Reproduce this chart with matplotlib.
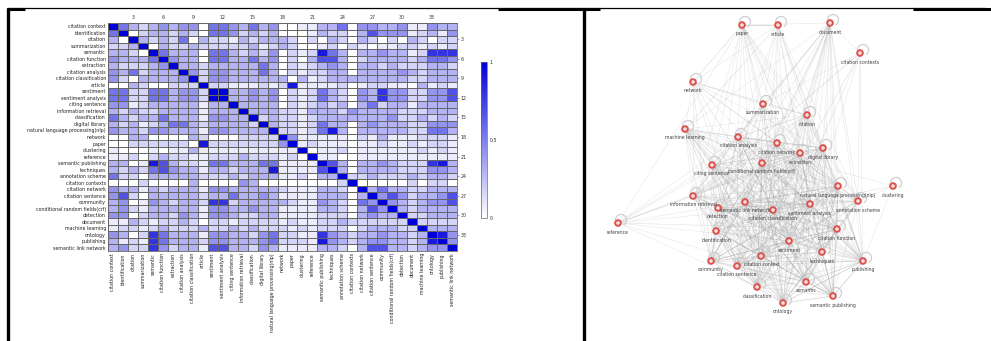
import numpy as np
import matplotlib
matplotlib.use("Agg")
import matplotlib.pyplot as plt
from matplotlib.colors import LinearSegmentedColormap
from matplotlib.patches import Arc

# ---------------- data ----------------
terms = ["citation context", "identification", "citation", "summarization", "semantic",
         "citation function", "extraction", "citation analysis", "citation classification",
         "article", "sentiment", "sentiment analysis", "citing sentence", "information retrieval",
         "classification", "digital library", "natural language processing(nlp)", "network",
         "paper", "clustering", "reference", "semantic publishing", "techniques",
         "annotation scheme", "citation contexts", "citation network", "citation sentence",
         "community", "conditional random fields(crf)", "detection", "document",
         "machine learning", "ontology", "publishing", "semantic link network"]

# upper triangle: values for columns i+1..35, coded 0..9 (9 = strongest)
upper_rows = [
    "5 3 2 3 4 3 4 4 0 5 5 4 3 5 3 4 0 0 1 1 3 3 5 0 4 4 3 3 4 1 1 4 3 3",
    "0 2 3 3 2 3 2 0 5 5 4 2 3 2 3 0 0 0 1 3 2 2 0 3 6 4 4 4 1 2 3 1 4",
    "3 2 3 2 5 0 3 2 2 1 3 2 3 3 3 2 0 2 0 3 2 0 3 2 0 2 0 3 2 0 2 2",
    "0 3 2 2 3 2 2 2 2 2 3 1 2 3 2 0 0 1 2 0 2 1 0 1 1 2 2 1 2 1 2",
    "5 3 3 3 0 5 5 3 2 3 2 4 0 2 1 2 8 5 3 0 3 3 4 3 3 1 2 7 7 7",
    "4 3 3 0 5 5 3 3 5 3 4 0 2 0 3 6 6 3 0 2 3 3 3 3 2 3 5 5 4",
    "3 3 2 3 3 3 3 3 5 3 0 2 1 2 3 4 3 0 3 3 2 3 2 2 2 3 3 2",
    "4 2 4 4 3 3 3 5 3 0 2 1 2 2 3 3 0 3 3 3 3 4 3 2 3 3 3",
    "2 4 4 3 3 3 3 3 3 0 3 1 2 3 3 3 3 3 3 3 3 2 2 3 3 3",
    "2 2 1 1 1 2 1 2 8 1 1 1 1 2 0 1 2 2 1 1 0 3 1 2 1",
    "9 3 3 4 3 4 0 2 1 2 5 3 2 0 4 3 7 4 4 2 2 4 4 6",
    "3 3 4 3 4 0 2 1 2 5 3 2 0 4 3 7 4 4 2 2 4 4 6",
    "3 3 3 3 0 2 1 2 3 2 3 0 3 5 2 3 3 1 3 3 3 3",
    "3 3 3 2 2 1 3 3 3 2 4 3 3 3 3 2 2 2 3 3 3",
    "2 3 2 2 1 2 3 3 3 3 3 3 3 4 2 2 3 2 3 2",
    "3 2 2 1 2 5 3 3 0 3 4 3 3 3 2 2 4 4 4",
    "2 2 1 2 5 8 3 0 3 3 3 3 3 2 2 5 5 3",
    "4 1 1 1 1 1 0 2 1 3 1 1 1 2 2 2 1",
    "1 2 1 1 1 0 1 1 2 1 1 2 1 2 2 1",
    "0 1 1 2 0 1 1 1 1 1 1 2 1 2 1",
    "1 1 0 0 1 1 1 1 1 1 1 1 1 1",
    "6 3 0 3 3 4 3 2 2 2 7 8 3",
    "3 0 3 3 3 3 2 2 2 4 4 3",
    "2 2 3 2 2 2 3 2 3 3 2",
    "0 0 0 0 0 2 0 2 2 0",
    "3 5 3 3 2 2 3 3 3",
    "4 6 4 2 3 3 4 6",
    "4 3 2 3 4 4 6",
    "3 2 3 3 3 3",
    "2 2 3 3 3",
    "2 2 2 2",
    "3 3 3",
    "8 4",
    "4",
]
level_values = [0.0, 0.08, 0.17, 0.3, 0.42, 0.55, 0.68, 0.8, 0.9, 1.0]

# network node positions (pixel coordinates of the reference picture)
node_x = [737, 716, 807, 763, 806, 837, 800, 738, 773, 778, 789, 810, 712, 693, 757, 823,
          838, 693, 742, 893, 618, 833, 822, 858, 860, 777, 761, 711, 762, 718, 830, 685,
          783, 863, 745]
node_y = [266, 231, 115, 104, 282, 229, 153, 137, 210, 25, 241, 204, 165, 196, 287, 148,
          186, 82, 25, 186, 223, 296, 252, 201, 53, 143, 256, 261, 163, 208, 23, 129,
          303, 261, 202]

tick_nums = [3, 6, 9, 12, 15, 18, 21, 24, 27, 30, 33]
cbar_ticks = [0, 0.5, 1]
cbar_labels = ["0", "0.5", "1"]

# ---------------- build matrix ----------------
n = len(terms)
M = np.eye(n)
for i, row in enumerate(upper_rows):
    codes = [int(c) for c in row.split()]
    for k, d in enumerate(codes):
        j = i + 1 + k
        if j < n:
            M[i, j] = M[j, i] = level_values[d]

# ---------------- figure ----------------
W, H = 991, 341
fig = plt.figure(figsize=(W / 100, H / 100), dpi=100)
fig.patch.set_facecolor("white")

bg = fig.add_axes([0, 0, 1, 1])
bg.set_xlim(0, W)
bg.set_ylim(H, 0)
bg.axis("off")

# table borders
bg.plot([7, 985], [8, 8], color="black", lw=0.9, solid_capstyle="butt")
bg.plot([7, 25], [8.5, 8.5], color="black", lw=2.2, solid_capstyle="butt")
bg.plot([583, 600], [8.5, 8.5], color="black", lw=2.2, solid_capstyle="butt")
bg.plot([498, 583], [9, 9], color="black", lw=2.2, solid_capstyle="butt")
bg.plot([913, 991], [9, 9], color="black", lw=2.2, solid_capstyle="butt")
bg.plot([7.5, 7.5], [8, H], color="black", lw=2.4, solid_capstyle="butt")
bg.plot([583.5, 583.5], [8, H], color="black", lw=2.4, solid_capstyle="butt")

# ---------------- heatmap ----------------
cmap = LinearSegmentedColormap.from_list("wb", ["#ffffff", "#0000d8"])
x0, x1, y0, y1 = 108, 457, 23, 251
ax = fig.add_axes([x0 / W, 1 - y1 / H, (x1 - x0) / W, (y1 - y0) / H])
mesh = ax.pcolormesh(np.arange(n + 1), np.arange(n + 1), M, cmap=cmap, vmin=0, vmax=1,
                     edgecolors="#666666", linewidth=0.5)
ax.set_xlim(0, n)
ax.set_ylim(n, 0)
for s in ax.spines.values():
    s.set_color("#666666")
    s.set_linewidth(0.6)

ax.set_yticks(np.arange(n) + 0.5)
ax.set_yticklabels(terms, fontsize=3.4, color="#222222")
ax.set_xticks(np.arange(n) + 0.5)
ax.set_xticklabels(terms, fontsize=3.4, color="#222222", rotation=90, va="top", ha="center")
ax.tick_params(axis="both", length=0, pad=1.5)

axt = ax.secondary_xaxis("top")
axt.set_xticks(np.array(tick_nums) - 0.5)
axt.set_xticklabels([str(t) for t in tick_nums], fontsize=3.4, color="#333333")
axt.tick_params(length=0, pad=2)
axt.spines["top"].set_visible(False)

axr = ax.secondary_yaxis("right")
axr.set_yticks(np.array(tick_nums) - 0.5)
axr.set_yticklabels([str(t) for t in tick_nums], fontsize=3.4, color="#333333")
axr.tick_params(length=1.5, width=0.4, pad=1, color="#666666")
axr.spines["right"].set_visible(False)

cax = fig.add_axes([481 / W, 1 - 218 / H, 6 / W, 156 / H])
cb = fig.colorbar(mesh, cax=cax)
cb.set_ticks(cbar_ticks)
cb.set_ticklabels(cbar_labels)
cb.ax.tick_params(labelsize=3.4, length=0, pad=2, labelcolor="#333333")
cb.outline.set_linewidth(0.5)
cb.outline.set_edgecolor("#666666")

# ---------------- network ----------------
nx_ = np.array(node_x, float)
ny_ = np.array(node_y, float)
for i in range(n):
    for j in range(i + 1, n):
        v = M[i, j]
        if v >= 0.15:
            bg.plot([nx_[i], nx_[j]], [ny_[i], ny_[j]], color="#9a9a9a",
                    lw=0.45, alpha=min(0.12 + 0.5 * v, 0.6), zorder=1)

for i in range(n):
    bg.add_patch(Arc((nx_[i] + 3, ny_[i] - 3), 11, 11, angle=0, theta1=180, theta2=60,
                     color="#cfcfcf", lw=0.9, zorder=2))

bg.scatter(nx_, ny_, s=30, facecolor="#d9534f", edgecolor="none", zorder=3)
bg.scatter(nx_, ny_, s=7, facecolor="#f7dede", edgecolor="none", zorder=4)

label_dx = {"citation context": 7, "citation sentence": -24}
label_dy = {"citation context": -1, "citation sentence": 19}
label_ha = {"citation context": "left"}
for i, t in enumerate(terms):
    dx = label_dx.get(t, 0)
    dy = label_dy.get(t, 9)
    bg.text(nx_[i] + dx, ny_[i] + dy, t, fontsize=3.3, color="#444444",
            ha=label_ha.get(t, "center"), va="center", zorder=5)

fig.savefig("out.png", dpi=100, facecolor="white")
